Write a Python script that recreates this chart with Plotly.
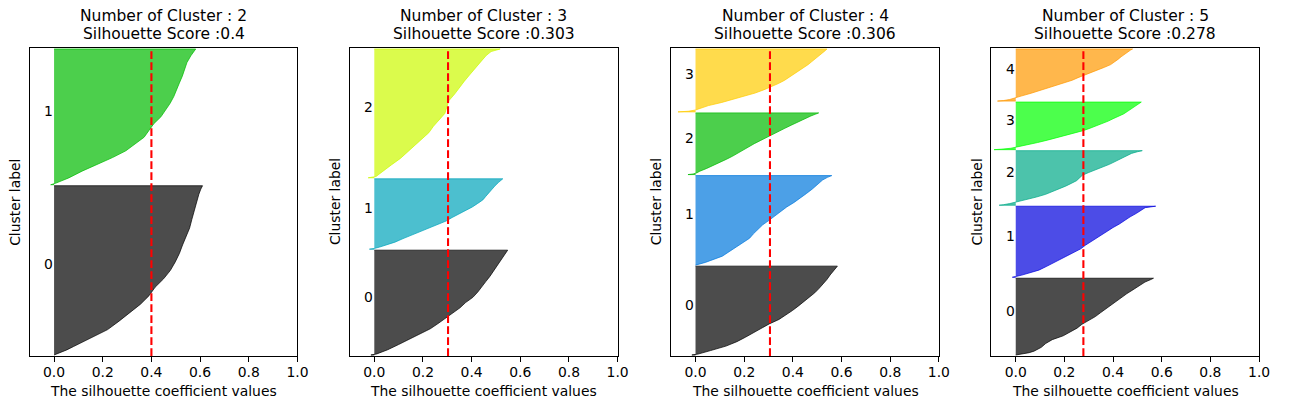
import plotly.graph_objects as go

# figure kept slightly smaller than the 1290x409 window so that nothing overflows
W, H = 1280, 405

# quantile positions (rank fraction within each cluster) at which silhouette values were read
quantiles = [0, 0.01, 0.03, 0.05, 0.10, 0.15, 0.20, 0.25, 0.30, 0.35, 0.40, 0.45,
             0.50, 0.55, 0.60, 0.65, 0.70, 0.75, 0.80, 0.85, 0.90, 0.95, 0.98, 1.0]

n_clusters_list = [2, 3, 4, 5]
silhouette_scores = [0.4, 0.303, 0.306, 0.278]
score_labels = ["0.4", "0.303", "0.306", "0.278"]
cluster_sizes = [[1690, 1355], [1050, 705, 1290], [893, 900, 620, 632], [774, 716, 550, 480, 525]]

k2_c0 = [0.0, 0.018, 0.052, 0.08, 0.15, 0.22, 0.267, 0.31, 0.355, 0.39, 0.415, 0.45,
         0.478, 0.498, 0.515, 0.528, 0.544, 0.557, 0.566, 0.575, 0.585, 0.595, 0.603, 0.61]
k2_c1 = [-0.014, 0.005, 0.035, 0.06, 0.115, 0.18, 0.24, 0.295, 0.335, 0.37, 0.39, 0.41,
         0.439, 0.458, 0.477, 0.492, 0.505, 0.515, 0.527, 0.537, 0.546, 0.562, 0.575, 0.582]

k3_c0 = [-0.014, 0.01, 0.032, 0.055, 0.10, 0.145, 0.19, 0.23, 0.262, 0.292, 0.318, 0.352,
         0.375, 0.405, 0.425, 0.443, 0.458, 0.475, 0.489, 0.505, 0.518, 0.532, 0.54, 0.548]
k3_c1 = [-0.02, 0.0, 0.022, 0.04, 0.085, 0.118, 0.153, 0.192, 0.23, 0.262, 0.295, 0.32,
         0.348, 0.37, 0.403, 0.425, 0.446, 0.458, 0.47, 0.482, 0.496, 0.511, 0.52, 0.528]
k3_c2 = [-0.025, 0.007, 0.02, 0.035, 0.07, 0.107, 0.137, 0.167, 0.198, 0.224, 0.243, 0.267,
         0.29, 0.298, 0.307, 0.33, 0.349, 0.37, 0.392, 0.413, 0.437, 0.46, 0.48, 0.517]

k4_c0 = [-0.015, 0.01, 0.04, 0.062, 0.125, 0.17, 0.205, 0.236, 0.268, 0.303, 0.343, 0.372,
         0.398, 0.422, 0.445, 0.47, 0.49, 0.508, 0.525, 0.54, 0.553, 0.567, 0.576, 0.583]
k4_c1 = [0.0, 0.015, 0.04, 0.06, 0.11, 0.138, 0.167, 0.198, 0.222, 0.238, 0.257, 0.276,
         0.302, 0.326, 0.348, 0.375, 0.405, 0.432, 0.456, 0.48, 0.502, 0.522, 0.542, 0.56]
k4_c2 = [-0.031, -0.01, 0.007, 0.015, 0.046, 0.075, 0.103, 0.128, 0.153, 0.175, 0.195, 0.215,
         0.241, 0.266, 0.29, 0.315, 0.34, 0.367, 0.393, 0.418, 0.444, 0.474, 0.494, 0.506]
k4_c3 = [-0.072, -0.03, 0.0, 0.015, 0.053, 0.108, 0.157, 0.203, 0.245, 0.28, 0.313, 0.34,
         0.365, 0.385, 0.405, 0.424, 0.444, 0.462, 0.478, 0.495, 0.51, 0.525, 0.535, 0.54]

k5_c0 = [0.0, 0.02, 0.055, 0.075, 0.105, 0.123, 0.15, 0.195, 0.226, 0.252, 0.272, 0.30,
         0.327, 0.348, 0.37, 0.39, 0.41, 0.432, 0.457, 0.482, 0.505, 0.531, 0.553, 0.566]
k5_c1 = [-0.014, 0.0, 0.025, 0.045, 0.095, 0.125, 0.153, 0.183, 0.21, 0.243, 0.267, 0.286,
         0.308, 0.332, 0.355, 0.376, 0.40, 0.426, 0.447, 0.47, 0.496, 0.518, 0.532, 0.575]
k5_c2 = [-0.068, -0.05, -0.025, -0.005, 0.045, 0.085, 0.123, 0.152, 0.18, 0.205, 0.228, 0.25,
         0.262, 0.274, 0.30, 0.328, 0.362, 0.385, 0.408, 0.432, 0.453, 0.476, 0.50, 0.52]
k5_c3 = [-0.089, -0.06, -0.02, 0.0, 0.05, 0.09, 0.13, 0.17, 0.205, 0.245, 0.277, 0.305,
         0.332, 0.357, 0.38, 0.40, 0.422, 0.443, 0.458, 0.473, 0.489, 0.50, 0.51, 0.516]
k5_c4 = [-0.075, -0.05, -0.025, -0.008, 0.025, 0.063, 0.098, 0.133, 0.17, 0.203, 0.232, 0.256,
         0.285, 0.315, 0.34, 0.365, 0.39, 0.407, 0.42, 0.433, 0.447, 0.46, 0.472, 0.48]

silhouette_values = [[k2_c0, k2_c1], [k3_c0, k3_c1, k3_c2],
                     [k4_c0, k4_c1, k4_c2, k4_c3], [k5_c0, k5_c1, k5_c2, k5_c3, k5_c4]]

# nipy_spectral(i / n) colours
cluster_colors = [
    [(0, 0, 0), (0, 187, 0)],
    [(0, 0, 0), (0, 164, 187), (204, 249, 0)],
    [(0, 0, 0), (0, 119, 221), (0, 187, 0), (255, 204, 0)],
    [(0, 0, 0), (0, 0, 221), (0, 170, 136), (0, 255, 0), (255, 153, 0)],
]

xtick_vals = [0.0, 0.2, 0.4, 0.6, 0.8, 1.0]
xtick_text = ["0.0", "0.2", "0.4", "0.6", "0.8", "1.0"]

FONT = "DejaVu Sans"
ax_left_px = [30, 353, 677, 1000]
ax_w_px = 270
ax_top_px, ax_bot_px = 48, 356


def px_x(p):
    return p / W


def px_y(p):
    return 1 - p / H


fig = go.Figure()
annotations = []
shapes = []
layout = {}

for i, n in enumerate(n_clusters_list):
    sfx = "" if i == 0 else str(i + 1)
    xa, ya = "x" + sfx, "y" + sfx
    sizes = cluster_sizes[i]
    total = sum(sizes)
    y_lower = 10
    for j in range(n):
        size = sizes[j]
        vals = silhouette_values[i][j]
        ys = [y_lower + q * size for q in quantiles]
        r, g, b = cluster_colors[i][j]
        col = f"rgba({r},{g},{b},0.7)"
        fig.add_trace(go.Scatter(
            x=[0] + vals + [0], y=[ys[0]] + ys + [ys[-1]],
            mode="lines", fill="toself", fillcolor=col,
            line=dict(color=col, width=1), xaxis=xa, yaxis=ya,
            showlegend=False, hoverinfo="skip"))
        annotations.append(dict(
            x=-0.05, y=y_lower + 0.5 * size, xref=xa, yref=ya, text=str(j),
            showarrow=False, xanchor="left", yanchor="bottom", yshift=-4,
            font=dict(family=FONT, size=13.9, color="black")))
        y_lower += size + 10
    ylim = total + (n + 1) * 10

    left = ax_left_px[i]
    layout["xaxis" + sfx] = dict(
        domain=[px_x(left), px_x(left + ax_w_px)], anchor=ya, range=[-0.1, 1.0],
        tickvals=xtick_vals, ticktext=xtick_text, ticks="outside", ticklen=5,
        tickwidth=1.1, tickcolor="black", showline=True, mirror=True,
        linecolor="black", linewidth=1.1, showgrid=False, zeroline=False,
        ticklabelstandoff=-2,
        tickfont=dict(family=FONT, size=13.9, color="black"))
    layout["yaxis" + sfx] = dict(
        domain=[px_y(ax_bot_px), px_y(ax_top_px)], anchor=xa, range=[0, ylim],
        showticklabels=False, ticks="", showline=True, mirror=True,
        linecolor="black", linewidth=1.1, showgrid=False, zeroline=False)

    shapes.append(dict(type="line", xref=xa, yref=ya + " domain",
                       x0=silhouette_scores[i], x1=silhouette_scores[i], y0=0, y1=1,
                       line=dict(color="red", width=2.1, dash="7.7px,3.3px")))

    cx = px_x(left + ax_w_px / 2)
    annotations.append(dict(x=cx, y=px_y(15.6), xref="paper", yref="paper",
                            text=f"Number of Cluster : {n}", showarrow=False,
                            xanchor="center", yanchor="middle",
                            font=dict(family=FONT, size=15.5, color="black")))
    annotations.append(dict(x=cx, y=px_y(34.0), xref="paper", yref="paper",
                            text=f"Silhouette Score :{score_labels[i]}", showarrow=False,
                            xanchor="center", yanchor="middle",
                            font=dict(family=FONT, size=15.5, color="black")))
    annotations.append(dict(x=cx, y=px_y(390.7), xref="paper", yref="paper",
                            text="The silhouette coefficient values", showarrow=False,
                            xanchor="center", yanchor="middle",
                            font=dict(family=FONT, size=13.9, color="black")))
    annotations.append(dict(x=px_x(left - 15), y=px_y((ax_top_px + ax_bot_px) / 2),
                            xref="paper", yref="paper", text="Cluster label",
                            showarrow=False, textangle=-90, xanchor="center",
                            yanchor="middle",
                            font=dict(family=FONT, size=13.9, color="black")))

fig.update_layout(
    width=W, height=H, margin=dict(l=0, r=0, t=0, b=0),
    paper_bgcolor="white", plot_bgcolor="white",
    annotations=annotations, shapes=shapes, showlegend=False, **layout)

post = ("var gd = document.getElementById('{plot_id}');"
        "gd.style.position='absolute'; gd.style.left='0px'; gd.style.top='0px';"
        "document.body.style.margin='0px'; document.body.style.overflow='hidden';"
        "document.documentElement.style.overflow='hidden';")

fig.write_html("out.html", config={"displayModeBar": False}, post_script=post)
